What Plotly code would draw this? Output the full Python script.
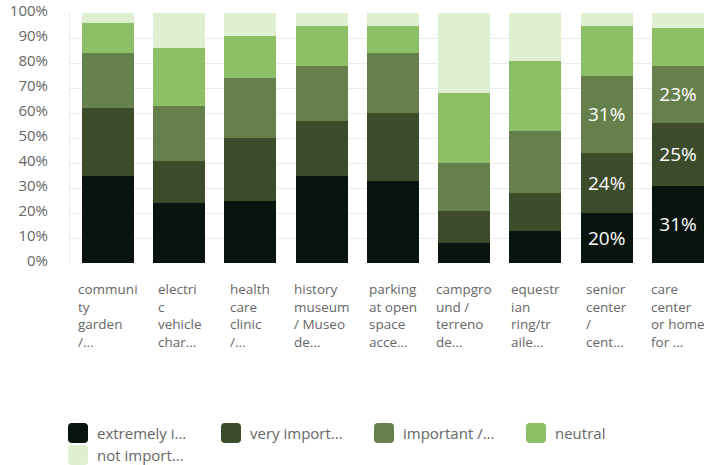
import plotly.graph_objects as go

# categories as shown (truncated, wrapped like the original axis)
categories = [
    "communi<br>ty<br>garden<br>/...",
    "electri<br>c<br>vehicle<br>char...",
    "health<br>care<br>clinic<br>/...",
    "history<br>museum<br>/ Museo<br>de...",
    "parking<br>at open<br>space<br>acce...",
    "campgro<br>und /<br>terreno<br>de...",
    "equestr<br>ian<br>ring/tr<br>aile...",
    "senior<br>center<br>/<br>cent...",
    "care<br>center<br>or home<br>for ...",
]

series_names = ["extremely i...", "very import...", "important /...", "neutral", "not import..."]
series_colors = ["#09140f", "#3c4c2b", "#66804c", "#8dbf66", "#dfefd2"]

# percent of responses per category
extremely = [35, 24, 25, 35, 33, 8, 13, 20, 31]
very = [27, 17, 25, 22, 27, 13, 15, 24, 25]
important = [22, 22, 24, 22, 24, 19, 25, 31, 23]
neutral = [12, 23, 17, 16, 11, 28, 28, 20, 15]
not_important = [4, 14, 9, 5, 5, 32, 19, 5, 6]

# only these bars carry value labels in the original
labelled = [7, 8]

FONT = "Open Sans"
GREY = "#666666"

fig = go.Figure()
for name, color, vals in zip(series_names, series_colors,
                             [extremely, very, important, neutral, not_important]):
    show_text = name in series_names[:3]
    text = [f"{v}%" if (show_text and i in labelled) else "" for i, v in enumerate(vals)]
    fig.add_trace(go.Bar(
        x=list(range(len(categories))), y=vals, name=name,
        marker=dict(color=color, line=dict(width=0)),
        text=text, textposition="inside", insidetextanchor="middle",
        textangle=0, constraintext="none",
        textfont=dict(color="white", size=19, family=FONT),
        showlegend=False,
    ))

fig.update_layout(
    barmode="stack", bargap=0.27,
    width=704, height=465,
    margin=dict(l=70, r=0, t=13, b=202, autoexpand=False),
    plot_bgcolor="white", paper_bgcolor="white",
    font=dict(family=FONT, color=GREY, size=14),
)
fig.update_xaxes(range=[-0.53, 8.365], showticklabels=False, showgrid=False,
                 zeroline=False, fixedrange=True, automargin=False)
fig.update_yaxes(range=[0, 100], tickvals=list(range(0, 101, 10)),
                 ticktext=[f"{v}%" for v in range(0, 101, 10)],
                 showgrid=True, gridcolor="#ebebeb", zeroline=False,
                 showline=True, linecolor="#ebebeb", automargin=False,
                 ticklabelstandoff=18, ticklabelshift=-2,
                 tickfont=dict(size=15, color=GREY))

# category labels: lines left aligned, block centred under the bar
for i, lab in enumerate(categories):
    fig.add_annotation(x=i, y=0, xref="x", yref="paper", text=lab,
                       showarrow=False, xanchor="center", yanchor="top",
                       align="left", yshift=-15,
                       font=dict(size=13.5, color=GREY, family=FONT))

# custom legend with rounded swatches (positions in window pixels)
sq = "M -6,-10 L 6,-10 Q 10,-10 10,-6 L 10,6 Q 10,10 6,10 L -6,10 Q -10,10 -10,6 L -10,-6 Q -10,-10 -6,-10 Z"
legend_pos = [(78, 433), (231, 433), (384, 433), (536, 433), (78, 455)]
plot_w, plot_h, plot_left, plot_bottom = 634, 250, 70, 263
for name, color, (px, py) in zip(series_names, series_colors, legend_pos):
    xp = (px - plot_left) / plot_w
    yp = (plot_bottom - py) / plot_h
    fig.add_shape(type="path", path=sq, xref="paper", yref="paper",
                  xsizemode="pixel", ysizemode="pixel", xanchor=xp, yanchor=yp,
                  fillcolor=color, line=dict(width=0))
    fig.add_annotation(x=xp, y=yp, xref="paper", yref="paper", text=name,
                       showarrow=False, xanchor="left", yanchor="middle", xshift=17,
                       font=dict(size=15, color=GREY, family=FONT))

# drop the browser's default body margin so the figure fills the window
fig.write_html("out.html", config={"displayModeBar": False},
               post_script="document.body.style.margin='0';")
